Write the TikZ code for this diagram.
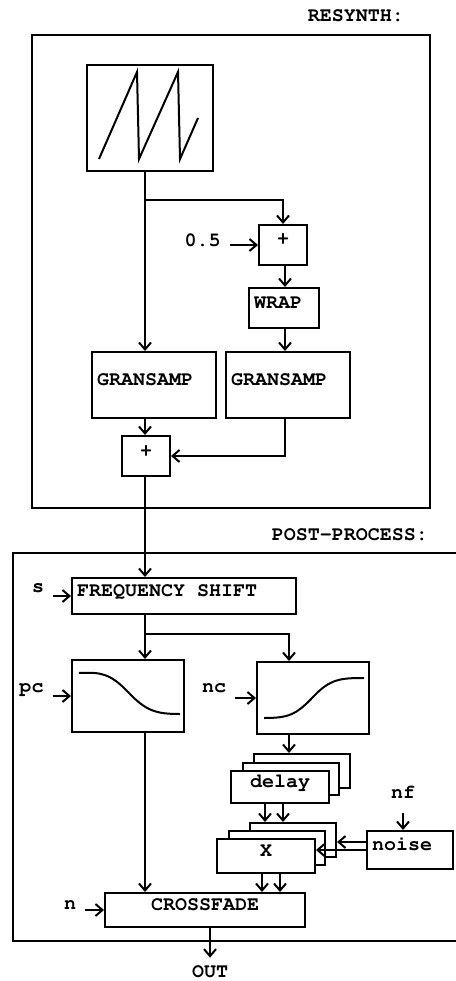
\documentclass[tikz,border=0pt]{standalone}
\usepackage[T1]{fontenc}
\usepackage{courier}
\usetikzlibrary{arrows.meta}
\tikzset{
  >={Straight Barb[length=7pt,width=12pt]},
  every node/.style={font=\ttfamily\bfseries\fontsize{20}{24}\selectfont},
  wire/.style={line width=2pt},
  frame/.style={line width=2.2pt},
  blk/.style={draw, fill=white, line width=2pt, inner xsep=5pt, inner ysep=0pt, text height=7pt, text depth=7pt},
  cbox/.style 2 args={blk, minimum width=#1pt, minimum height=#2pt},
  lbox/.style 2 args={blk, text width=#1pt, align=left, minimum height=#2pt},
  tag/.style={inner sep=0pt},
  feed/.style={wire, ->, shorten <=9pt},
}
\begin{document}
\begin{tikzpicture}[x=1pt,y=-1pt]
\useasboundingbox (0,0) rectangle (455,981);
% frames
\draw[frame] (32,35) rectangle (430,508);
\draw[frame] (13,553) rectangle (470,941);
\node[tag, anchor=east] (resynth) at (404,16) {RESYNTH:};
\node[tag, anchor=east] (post) at (428,535) {POST-PROCESS:};

% resynth part
\node[cbox={126}{106}] (saw) at (150,118) {};
\draw[wire] (99,159) -- (137,72) -- (139,159) -- (178,72) -- (180,159) -- (198,118);
\node[cbox={48}{40}] (plusA) at (283,245) {+};
\node[lbox={60}{40}] (wrap) at (284,308) {WRAP};
\node[lbox={114}{66}] (gsA) at (154,385) {GRANSAMP};
\node[lbox={114}{66}] (gsB) at (288,385) {GRANSAMP};
\node[cbox={48}{40}] (plusB) at (146,456) {+};
\node[tag] (val) at (202.5,240) {0.5};

\coordinate (col1) at (145,0);
\coordinate (col2) at (285,0);
\coordinate (split) at (145,200);
\draw[wire,->] (saw.south -| col1) -- (gsA.north -| col1);
\draw[wire,->] (split) -| (plusA.north);
\draw[feed] (val.east |- plusA.west) -- (plusA.west);
\draw[wire,->] (plusA.south -| col2) -- (wrap.north -| col2);
\draw[wire,->] (wrap.south -| col2) -- (gsB.north -| col2);
\draw[wire,->] (gsA.south -| col1) -- (plusB.north -| col1);
\draw[wire,->] (gsB.south -| col2) |- (plusB.east);

% post-process part
\node[lbox={214}{36}] (fs) at (184,596) {FREQUENCY\hspace{12pt}SHIFT};
\node[cbox={112}{72}] (pcbox) at (128,696) {};
\draw[wire] (79,673) .. controls (100,672) and (110,673) .. (128,692) .. controls (146,711) and (156,714) .. (180,714);
\node[cbox={112}{72}] (ncbox) at (313,698) {};
\draw[wire] (264,718) .. controls (288,718) and (296,715) .. (313,697) .. controls (330,679) and (340,678) .. (364,678);

\node[cbox={96}{34}] (delayC) at (302,771) {};
\node[cbox={96}{32}] (delayB) at (291,779) {};
\node[cbox={98}{32}] (delay) at (280,787) {delay};
\node[cbox={86}{34}] (xC) at (293,840) {};
\node[cbox={96}{34}] (xB) at (277,848) {};
\node[cbox={98}{34}] (xmul) at (266,856) {X};
\node[lbox={76}{38}] (noise) at (410,850) {noise};
\node[cbox={200}{34}] (xfade) at (205,910) {CROSSFADE};

\node[tag] (s) at (38,588) {s};
\node[tag] (pc) at (31.5,689.5) {pc};
\node[tag] (nc) at (214,688) {nc};
\node[tag] (n) at (70,905) {n};
\node[tag] (nf) at (403,792) {nf};
\node[tag] (out) at (210,972) {OUT};

\coordinate (fork) at (145,634);
\coordinate (col3) at (289,0);
\draw[wire,->] (plusB.south -| col1) -- (fs.north -| col1);
\draw[feed] (s.east |- fs.west) -- (fs.west);
\draw[wire,->] (fs.south -| col1) -- (pcbox.north -| col1);
\draw[wire,->] (fork) -| (ncbox.north -| col3);
\draw[feed] (pc.east |- pcbox.west) -- (pcbox.west);
\draw[feed] (nc.east |- ncbox.west) -- (ncbox.west);
\draw[wire,->] (ncbox.south -| col3) -- (delayC.north -| col3);
\draw[wire,->] ([xshift=-15pt]delay.south) -- ([xshift=-15pt]delay.south |- xC.north);
\draw[wire,->] ([xshift=3pt]delay.south) -- ([xshift=3pt]delay.south |- xC.north);
\draw[wire,->,shorten <=14pt] (nf.south) -- (nf.south |- noise.north);
\draw[wire,->] ([yshift=8pt]noise.west) -- ([yshift=8pt]noise.west -| xC.east);
\draw[wire,->] (noise.west) -- (noise.west -| xmul.east);
\draw[wire,->] ([xshift=-4pt]xmul.south) -- ([xshift=-4pt]xmul.south |- xfade.north);
\draw[wire,->] ([xshift=14pt]xmul.south) -- ([xshift=14pt]xmul.south |- xfade.north);
\draw[wire,->] (pcbox.south -| col1) -- (xfade.north -| col1);
\draw[feed] (n.east |- xfade.west) -- (xfade.west);
\draw[wire,->,shorten >=8pt] (xfade.south -| out) -- (out.north);
\end{tikzpicture}
\end{document}
